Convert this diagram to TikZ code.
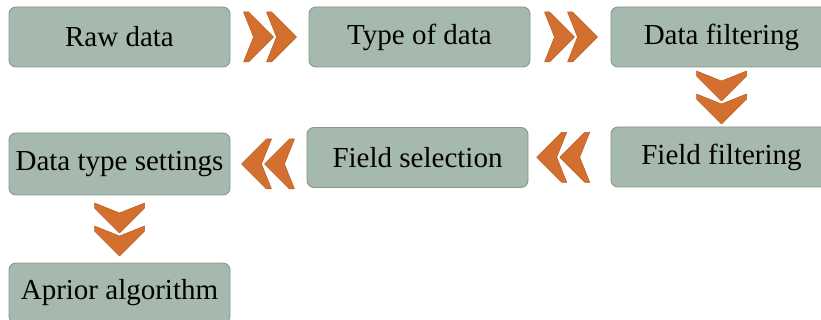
\documentclass[tikz,border=0pt]{standalone}
\usepackage{fontspec}
\setmainfont{Liberation Serif}
\definecolor{boxfill}{HTML}{A6B9AE}
\definecolor{boxline}{HTML}{86978E}
\definecolor{chevfill}{HTML}{D4702F}
\definecolor{chevline}{HTML}{B95C22}
\tikzset{
  stage/.style={rectangle, rounded corners=7pt, draw=boxline, fill=boxfill,
    line width=0.9pt, minimum width=221pt, minimum height=60pt, inner sep=2pt,
    font=\fontsize{29}{34}\selectfont},
  chev/.style={fill=chevfill, draw=chevline, line width=0.5pt, line join=round},
  pics/twochev/.style={code={
    \path[chev] (-26,25) -- (-21,25) -- (4,0) -- (-21,-25) -- (-26,-25) -- (-16,0) -- cycle;
    \path[chev] (-3,25) -- (2,25) -- (27,0) -- (2,-25) -- (-3,-25) -- (7,0) -- cycle;
  }}
}
\begin{document}
\begin{tikzpicture}[x=1pt,y=1pt]
  \useasboundingbox (0,0) rectangle (821,-320);
  \clip (0,0) rectangle (821,-320);

  % process stages
  \node[stage] (raw)   at (119.5,-37)   {Raw data};
  \node[stage] (type)  at (419.5,-37)   {Type of data};
  \node[stage] (dfilt) at (721.5,-37)   {Data filtering};
  \node[stage] (ffilt) at (721.5,-157)  {Field filtering};
  \node[stage] (fsel)  at (417.5,-157.5){Field selection};
  \node[stage, minimum height=62pt] (dts) at (119.5,-164) {Data type settings};
  \node[stage] (apr)   at (119.5,-293)  {Aprior algorithm};

  % double-chevron connectors between stages
  \path (raw.east) -- (type.west) coordinate[midway] (c1);
  \path (type.east) -- (dfilt.west) coordinate[midway] (c2);
  \path (dfilt.south) -- (ffilt.north) coordinate[midway] (c3);
  \path (ffilt.west) -- (fsel.east) coordinate[pos=0.57] (c4);
  \path (fsel.west |- dts.east) -- (dts.east) coordinate[midway] (c5);
  \path (dts.south) -- (apr.north) coordinate[midway] (c6);

  \pic at (c1) {twochev};
  \pic at (c2) {twochev};
  \pic[rotate=-90] at (c3) {twochev};
  \pic[rotate=180] at (c4) {twochev};
  \pic[rotate=180] at (c5) {twochev};
  \pic[rotate=-90] at (c6) {twochev};
\end{tikzpicture}
\end{document}
